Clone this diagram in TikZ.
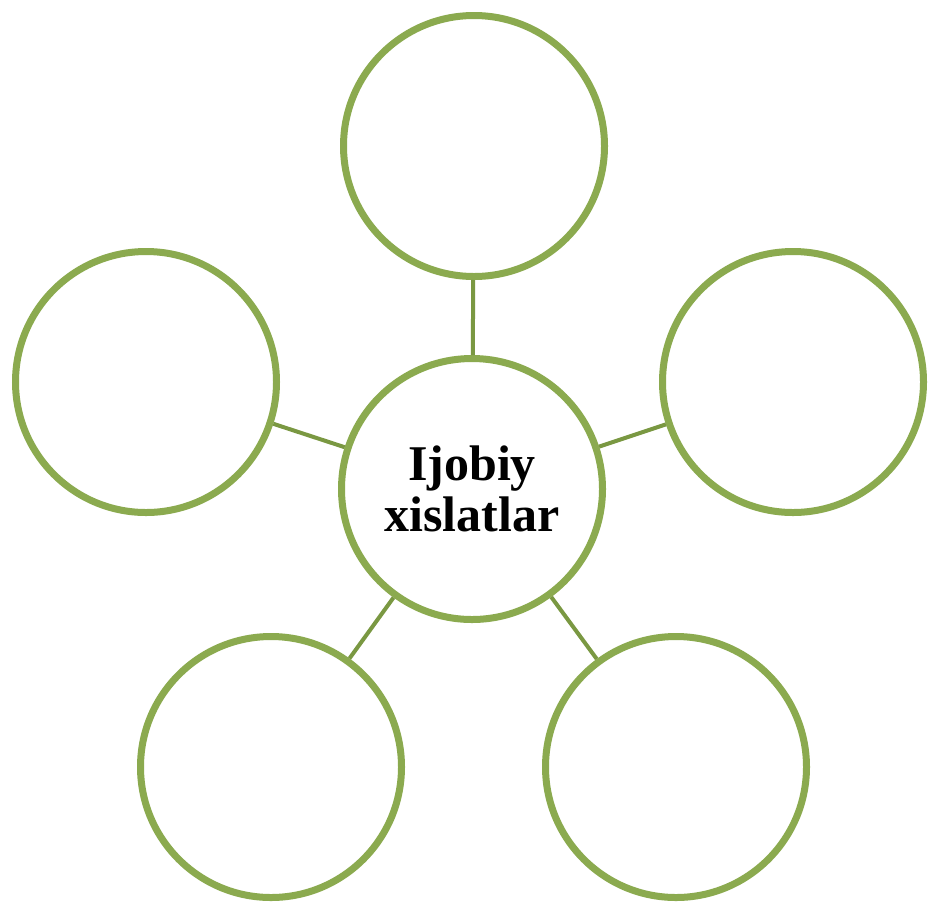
\documentclass[tikz,border=0pt]{standalone}
\usepackage{fontspec}
\setmainfont{Liberation Serif}
\usetikzlibrary{shadows}
\definecolor{leaf}{RGB}{139,170,79}
\definecolor{stem}{RGB}{122,152,66}
\begin{document}
\begin{tikzpicture}[x=1pt,y=-1pt,
  blob/.style={circle,draw=leaf,line width=7pt,fill=white,minimum size=261pt,inner sep=0pt,
    drop shadow={shadow xshift=1pt,shadow yshift=-2.5pt,opacity=0.3}},
  stick/.style={draw=stem,line width=4pt}]
\useasboundingbox (0,0) rectangle (928,903);
\node[blob] (top) at (474,146) {};
\node[blob] (left) at (146,382) {};
\node[blob] (right) at (793,382) {};
\node[blob] (botleft) at (271,767) {};
\node[blob] (botright) at (676,767) {};
\node[blob,align=center,font=\fontsize{50}{51}\selectfont\bfseries] (mid) at (472,489) {Ijobiy\\xislatlar};
\foreach \n in {top,left,right,botleft,botright}
  \draw[stick] (mid) -- (\n);
\end{tikzpicture}
\end{document}
